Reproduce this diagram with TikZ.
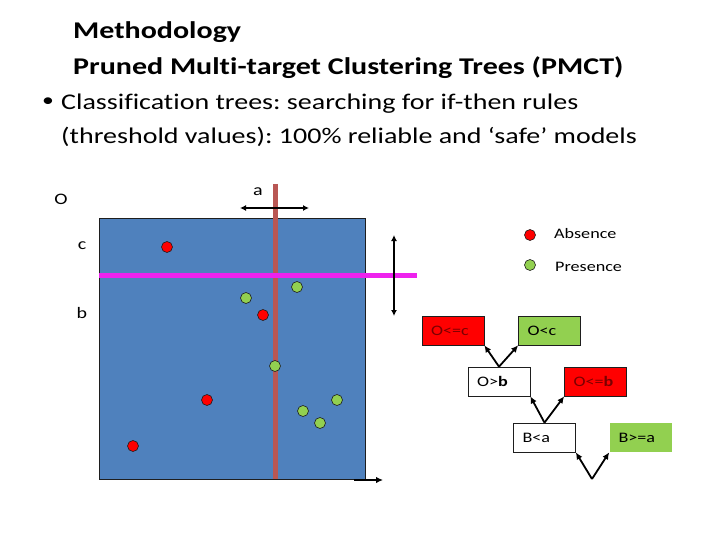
\documentclass[tikz,border=0pt]{standalone}
\usepackage{fontspec}
\setmainfont{Carlito}[Ligatures=NoCommon, FakeStretch=1.25]
\usepackage{xcolor}
\usepackage{tikz}
\usetikzlibrary{arrows.meta,positioning}
\definecolor{plotblue}{HTML}{4F81BD}
\definecolor{splitbrown}{HTML}{B95754}
\definecolor{splitpink}{HTML}{EE22EE}
\definecolor{absred}{HTML}{FF0000}
\definecolor{presgreen}{HTML}{92D050}
\definecolor{rulered}{HTML}{7A0000}
\definecolor{edgegray}{HTML}{1E1E1E}
\frenchspacing

\begin{document}
\begin{tikzpicture}[
		x=1pt,y=-1pt,
		>=Latex,
		title/.style={font=\fontsize{24}{28}\selectfont\bfseries, anchor=base west, inner sep=0pt},
		bodytext/.style={font=\fontsize{22.4}{26}\selectfont, anchor=base west, inner sep=0pt},
		axislabel/.style={font=\fontsize{16}{18}\selectfont, inner sep=0pt},
		legendtext/.style={font=\fontsize{14.5}{17}\selectfont, inner sep=0pt, anchor=base west},
		dot/.style={circle, draw=edgegray, line width=0.6pt, minimum size=11pt, inner sep=0pt},
		absdot/.style={dot, fill=absred},
		presdot/.style={dot, fill=presgreen},
		rulebox/.style={draw=edgegray, line width=0.7pt, minimum width=62pt, minimum height=29pt, text width=44pt, inner xsep=9pt, inner ysep=0pt, align=left, font=\fontsize{14.5}{16}\selectfont},
		split/.style={line width=5pt},
		span/.style={<->, line width=1.8pt, >={Latex[length=6pt,width=6pt]}},
		branch/.style={->, line width=1.8pt, >={Latex[length=7pt,width=6.5pt]}}
	]
	\useasboundingbox (0,0) rectangle (720,540);
	
	% Heading
	\node[title] (head1) at (73,39) {Methodology};
	\node[title] (head2) at (73,74.5) {Pruned Multi-target Clustering Trees (PMCT)};
	\node[bodytext, font=\fontsize{19}{21}\selectfont] (bullet) at (42,107) {•};
	\node[bodytext] (line1) at (61,109.5) {Classification trees: searching for if-then rules};
	\node[bodytext] (line2) at (61,144) {(threshold values): 100\% reliable and ‘safe’ models};
	
	% Feature space
	\node[draw=edgegray, line width=0.7pt, fill=plotblue, minimum width=266pt, minimum height=261pt, inner sep=0pt] (plot) at (232,348.5) {};
	\coordinate (aTop) at (275,184);
	\coordinate (aBot) at (275,479);
	\coordinate (cLeft) at (99,275);
	\coordinate (cRight) at (417,275);
	\draw[split, splitbrown] (aTop) -- (aBot);
	\draw[split, splitpink] (cLeft) -- (cRight);
	
	% Axis labels
	\node[axislabel] (labO) at (61,199) {O};
	\node[axislabel] (laba) at (258,192) {a};
	\node[axislabel] (labc) at (82,246) {c};
	\node[axislabel] (labb) at (82,313) {b};
	
	% Arrows
	\coordinate (aLeft) at (240,208);
	\coordinate (aRight) at (309,208);
	\coordinate (cUp) at (394,235);
	\coordinate (cDown) at (394,316);
	\coordinate (xStart) at (354,480);
	\coordinate (xEnd) at (383,480);
	\draw[span] (aLeft) -- (aRight);
	\draw[span] (cUp) -- (cDown);
	\draw[branch, line width=2pt] (xStart) -- (xEnd);
	
	% Samples
	\node[absdot] (abs1) at (167,247) {};
	\node[absdot] (abs2) at (263,315) {};
	\node[absdot] (abs3) at (207,400) {};
	\node[absdot] (abs4) at (133,446) {};
	\node[presdot] (pres1) at (297,287) {};
	\node[presdot] (pres2) at (246,298) {};
	\node[presdot] (pres3) at (275,366) {};
	\node[presdot] (pres4) at (337,400) {};
	\node[presdot] (pres5) at (303,411) {};
	\node[presdot] (pres6) at (320,423) {};
	
	% Legend
	\node[absdot] (legAbs) at (530,235) {};
	\node[presdot] (legPres) at (530,265) {};
	\node[legendtext] (legAbsText) at (554,239) {Absence};
	\node[legendtext] (legPresText) at (555,271) {Presence};
	
	% Tree
	\node[rulebox, fill=absred, text=rulered] (leOc) at (453,330.5) {O<=c};
	\node[rulebox, fill=presgreen] (ltOc) at (549.5,330.5) {O<c};
	\node[rulebox, fill=white] (gtOb) at (499,381.5) {O>\textbf{b}};
	\node[rulebox, fill=absred, text=rulered] (leOb) at (595.5,381.5) {O<=\textbf{b}};
	\node[rulebox, fill=white] (ltBa) at (544.5,437.5) {B<a};
	\node[rulebox, draw=none, fill=presgreen] (geBa) at (640.5,437.5) {B>=a};
	\coordinate (fork3) at (592,479);
	\draw[branch] (gtOb.north) -- (leOc.south east);
	\draw[branch] (gtOb.north) -- (ltOc.south west);
	\draw[branch] (ltBa.north) -- (gtOb.south east);
	\draw[branch] (ltBa.north) -- (leOb.south west);
	\draw[branch] (fork3) -- (ltBa.south east);
	\draw[branch] (fork3) -- (geBa.south west);
\end{tikzpicture}
\end{document}
